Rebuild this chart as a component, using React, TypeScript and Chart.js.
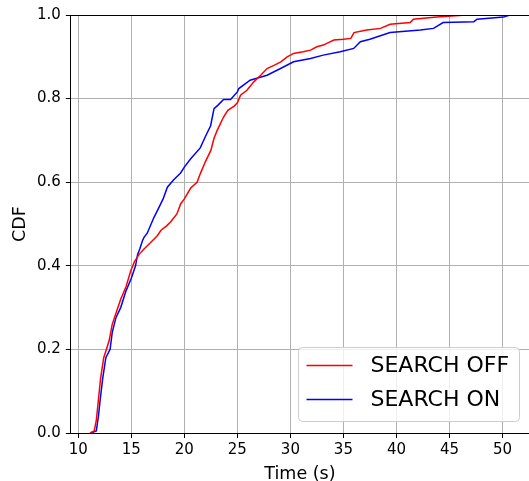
import React, { useEffect, useRef } from "react";
import { Chart, registerables } from "chart.js";

Chart.register(...registerables);

const offX = [11.1, 11.5, 11.7, 11.9, 12.1, 12.4, 12.9, 13.2, 13.6, 14.0, 14.5, 14.95, 15.3, 15.75, 16.2, 16.8, 17.45, 17.8, 18.3, 18.7, 19.3, 19.65, 20.0, 20.6, 21.2, 21.5, 22.0, 22.5, 22.8, 23.1, 23.7, 24.1, 24.7, 25.0, 25.3, 25.9, 26.55, 27.2, 27.8, 28.5, 29.1, 29.7, 30.3, 31.2, 31.9, 32.5, 33.1, 34.1, 35.0, 35.7, 36.0, 37.2, 38.5, 39.4, 41.3, 41.6, 43.8, 46.6];
const offY = [0, 0.005, 0.03, 0.08, 0.13, 0.18, 0.22, 0.26, 0.29, 0.32, 0.35, 0.388, 0.41, 0.428, 0.44, 0.455, 0.472, 0.485, 0.495, 0.505, 0.524, 0.548, 0.56, 0.586, 0.6, 0.62, 0.65, 0.676, 0.705, 0.724, 0.756, 0.772, 0.782, 0.79, 0.808, 0.82, 0.84, 0.856, 0.872, 0.88, 0.888, 0.9, 0.908, 0.912, 0.916, 0.924, 0.928, 0.94, 0.942, 0.944, 0.958, 0.964, 0.968, 0.978, 0.982, 0.99, 0.995, 1.0];

const onX = [11.2, 11.7, 11.9, 12.05, 12.3, 12.6, 13.0, 13.2, 13.55, 14.0, 14.5, 15.0, 15.4, 15.6, 15.8, 16.05, 16.2, 16.5, 17.14, 17.46, 18.0, 18.4, 19.0, 19.65, 20.0, 20.6, 21.5, 22.0, 22.48, 22.8, 23.2, 23.7, 24.36, 25.0, 25.14, 26.2, 27.8, 29.07, 30.3, 31.9, 33.1, 34.7, 35.97, 36.6, 37.5, 38.2, 39.4, 42.25, 43.5, 44.4, 47.3, 47.6, 50.1, 50.7];
const onY = [0, 0.005, 0.04, 0.076, 0.13, 0.18, 0.2, 0.24, 0.276, 0.3, 0.34, 0.37, 0.4, 0.428, 0.44, 0.46, 0.468, 0.478, 0.516, 0.532, 0.56, 0.588, 0.606, 0.622, 0.636, 0.656, 0.682, 0.71, 0.735, 0.776, 0.785, 0.798, 0.798, 0.816, 0.824, 0.844, 0.856, 0.872, 0.888, 0.896, 0.904, 0.912, 0.92, 0.936, 0.942, 0.948, 0.958, 0.964, 0.968, 0.982, 0.984, 0.99, 0.995, 1.0];

const xTicks = [10, 15, 20, 25, 30, 35, 40, 45, 50];
const yTicks = [0, 0.2, 0.4, 0.6, 0.8, 1.0];
const seriesNames = ["SEARCH OFF", "SEARCH ON"];
const seriesColors = ["#ff0000", "#0000ff"];

const FONT = "'DejaVu Sans', sans-serif";

const frame = {
  id: "frame",
  afterDatasetsDraw(chart: any) {
    const { ctx, chartArea } = chart;
    ctx.save();
    ctx.strokeStyle = "#000";
    ctx.lineWidth = 1;
    ctx.beginPath();
    ctx.moveTo(chartArea.left, Math.round(chartArea.top) + 0.5);
    ctx.lineTo(chartArea.right, Math.round(chartArea.top) + 0.5);
    ctx.stroke();
    ctx.restore();
  },
  afterDraw(chart: any) {
    const { ctx, chartArea } = chart;
    const bx = chartArea.right - 230.5;
    const by = chartArea.bottom - 85.5;
    const bw = 221;
    const bh = 74;
    ctx.save();
    ctx.beginPath();
    const r = 4;
    ctx.moveTo(bx + r, by);
    ctx.arcTo(bx + bw, by, bx + bw, by + bh, r);
    ctx.arcTo(bx + bw, by + bh, bx, by + bh, r);
    ctx.arcTo(bx, by + bh, bx, by, r);
    ctx.arcTo(bx, by, bx + bw, by, r);
    ctx.closePath();
    ctx.fillStyle = "rgba(255,255,255,0.8)";
    ctx.fill();
    ctx.strokeStyle = "#cccccc";
    ctx.lineWidth = 1;
    ctx.stroke();
    ctx.font = `22px ${FONT}`;
    ctx.textBaseline = "middle";
    seriesNames.forEach((name, i) => {
      const cy = by + 18 + i * 34;
      ctx.strokeStyle = seriesColors[i];
      ctx.lineWidth = 1.5;
      ctx.beginPath();
      ctx.moveTo(bx + 8, cy);
      ctx.lineTo(bx + 54, cy);
      ctx.stroke();
      ctx.fillStyle = "#000";
      ctx.fillText(name, bx + 72, cy + 1);
    });
    ctx.restore();
  },
};

export default function App() {
  const ref = useRef<HTMLCanvasElement | null>(null);
  useEffect(() => {
    if (!ref.current) return;
    const mk = (xs: number[], ys: number[]) => xs.map((x, i) => ({ x, y: ys[i] }));
    const chart = new Chart(ref.current, {
      type: "line",
      data: {
        datasets: [
          { label: seriesNames[0], data: mk(offX, offY), borderColor: seriesColors[0], borderWidth: 1.5, pointRadius: 0, tension: 0, fill: false },
          { label: seriesNames[1], data: mk(onX, onY), borderColor: seriesColors[1], borderWidth: 1.5, pointRadius: 0, tension: 0, fill: false },
        ],
      },
      options: {
        responsive: false,
        animation: false,
        layout: { padding: { left: 7, top: 15, right: 0, bottom: -4 } },
        plugins: { legend: { display: false }, tooltip: { enabled: false } },
        scales: {
          x: {
            type: "linear",
            min: 9.3,
            max: 52.5,
            afterBuildTicks: (axis: any) => {
              axis.ticks = xTicks.map((v) => ({ value: v }));
            },
            grid: { color: "#b0b0b0", lineWidth: 1, tickColor: "#000", tickLength: 5 },
            border: { color: "#000", width: 1 },
            ticks: { font: { family: FONT, size: 15 }, color: "#000", padding: 3, maxRotation: 0, callback: (v: any) => String(v) },
            title: { display: true, text: "Time (s)", font: { family: FONT, size: 17.5 }, color: "#000", padding: { top: 2, bottom: 0 } },
          },
          y: {
            type: "linear",
            min: 0,
            max: 1,
            afterBuildTicks: (axis: any) => {
              axis.ticks = yTicks.map((v) => ({ value: v }));
            },
            grid: { color: "#b0b0b0", lineWidth: 1, tickColor: "#000", tickLength: 5 },
            border: { color: "#000", width: 1 },
            ticks: { font: { family: FONT, size: 15 }, color: "#000", padding: 5, callback: (v: any) => Number(v).toFixed(1) },
            title: { display: true, text: "CDF", font: { family: FONT, size: 17.5 }, color: "#000", padding: { top: 3, bottom: 1 } },
          },
        },
      },
      plugins: [frame],
    });
    return () => chart.destroy();
  }, []);
  return (
    <div style={{ position: "fixed", left: 0, top: 0, width: 529, height: 481, overflow: "hidden", background: "#fff" }}>
      <canvas ref={ref} width={529} height={481} />
    </div>
  );
}
